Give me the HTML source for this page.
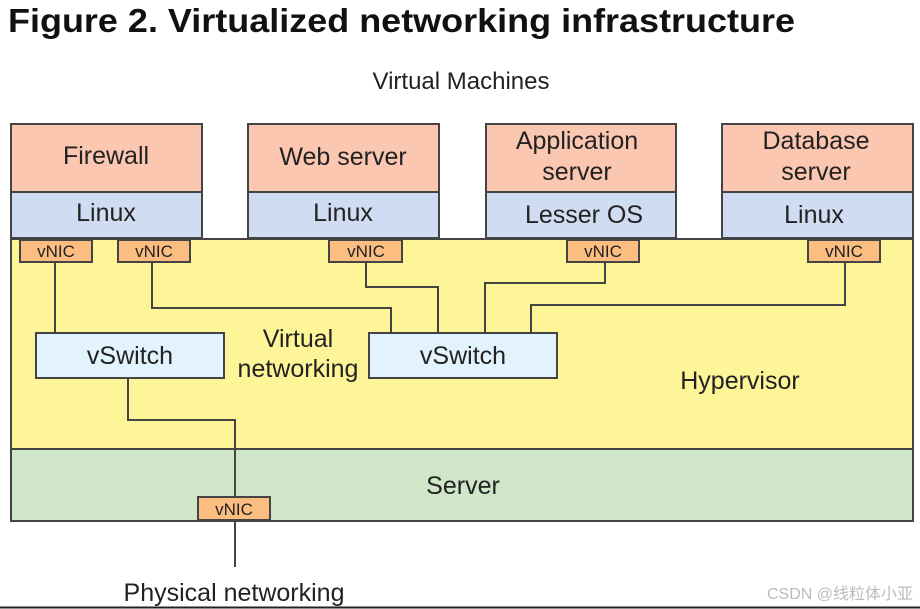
<!DOCTYPE html>
<html><head><meta charset="utf-8"><style>
html,body{margin:0;padding:0;background:#fff;}
svg{display:block;}
text{font-family:"Liberation Sans",Arial,sans-serif;fill:#222;}
</style></head><body>
<svg width="920" height="609" viewBox="0 0 920 609" xmlns="http://www.w3.org/2000/svg">
<text x="8" y="32" font-size="33" font-weight="bold" fill="#111" textLength="787" lengthAdjust="spacingAndGlyphs" style="fill:#111">Figure 2. Virtualized networking infrastructure</text>
<text x="461" y="89" font-size="24" text-anchor="middle">Virtual Machines</text>

<g stroke="#444" stroke-width="2">
<rect x="11" y="239" width="902" height="210" fill="#fdf597"/>
<rect x="11" y="449" width="902" height="72" fill="#cfe6c9"/>
<rect x="11" y="124" width="191" height="68" fill="#fbc7b1"/>
<rect x="11" y="192" width="191" height="46" fill="#cfdcf1"/>
<rect x="248" y="124" width="191" height="68" fill="#fbc7b1"/>
<rect x="248" y="192" width="191" height="46" fill="#cfdcf1"/>
<rect x="486" y="124" width="190" height="68" fill="#fbc7b1"/>
<rect x="486" y="192" width="190" height="46" fill="#cfdcf1"/>
<rect x="722" y="124" width="191" height="68" fill="#fbc7b1"/>
<rect x="722" y="192" width="191" height="46" fill="#cfdcf1"/>
<g fill="none">
<polyline points="55,262 55,333"/>
<polyline points="152,262 152,308 391,308 391,333"/>
<polyline points="366,262 366,287 438,287 438,333"/>
<polyline points="605,262 605,283 485,283 485,333"/>
<polyline points="845,262 845,305 531,305 531,333"/>
<polyline points="128,378 128,420 235,420 235,567"/>
</g>
<rect x="36" y="333" width="188" height="45" fill="#e3f3fd"/>
<rect x="369" y="333" width="188" height="45" fill="#e3f3fd"/>
<rect x="20" y="240" width="72" height="22" fill="#fbbd80"/>
<rect x="118" y="240" width="72" height="22" fill="#fbbd80"/>
<rect x="329" y="240" width="73" height="22" fill="#fbbd80"/>
<rect x="567" y="240" width="72" height="22" fill="#fbbd80"/>
<rect x="808" y="240" width="72" height="22" fill="#fbbd80"/>
<rect x="198" y="497" width="72" height="23" fill="#fbbd80"/>
</g>
<g font-size="25" text-anchor="middle">
<text x="106" y="164">Firewall</text>
<text x="106" y="221">Linux</text>
<text x="343" y="165">Web server</text>
<text x="343" y="221">Linux</text>
<text x="577" y="149">Application</text>
<text x="577" y="180">server</text>
<text x="584" y="223">Lesser OS</text>
<text x="816" y="149">Database</text>
<text x="816" y="180">server</text>
<text x="814" y="223">Linux</text>
<text x="130" y="364">vSwitch</text>
<text x="463" y="364">vSwitch</text>
<text x="298" y="347">Virtual</text>
<text x="298" y="377">networking</text>
<text x="740" y="389">Hypervisor</text>
<text x="463" y="494">Server</text>
<text x="234" y="601">Physical networking</text>
</g>
<g font-size="17" text-anchor="middle">
<text x="56" y="257">vNIC</text>
<text x="154" y="257">vNIC</text>
<text x="366" y="257">vNIC</text>
<text x="603" y="257">vNIC</text>
<text x="844" y="257">vNIC</text>
<text x="234" y="515">vNIC</text>
</g>
<text x="913" y="599" font-size="16" text-anchor="end" style="fill:#bbb;font-family:'Liberation Sans','Noto Sans CJK SC',sans-serif">CSDN @线粒体小亚</text>
<line x1="0" y1="607.5" x2="920" y2="607.5" stroke="#222" stroke-width="2"/>
</svg>
</body></html>
